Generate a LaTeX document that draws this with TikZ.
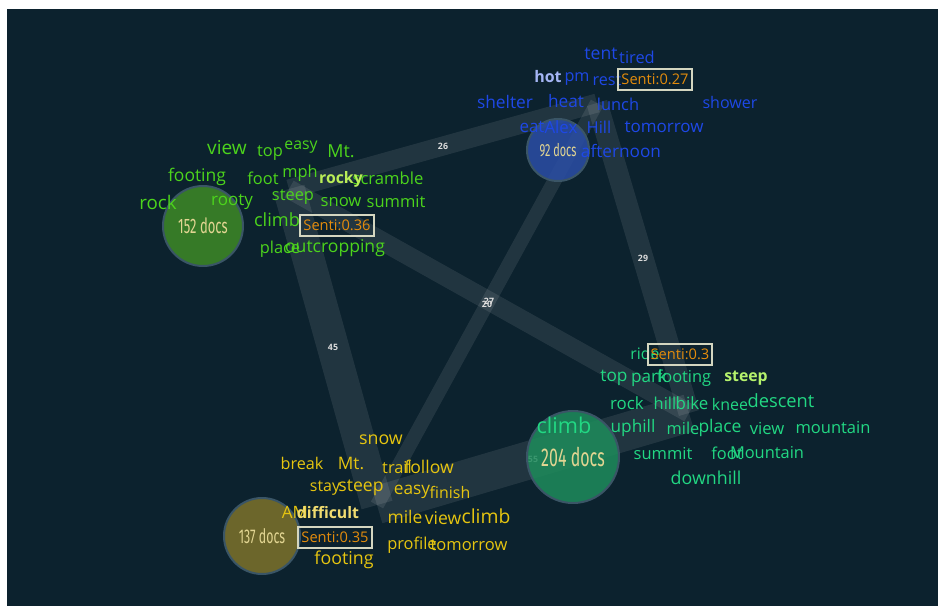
\documentclass[tikz,border=0pt]{standalone}
\usepackage{fontspec}
\setmainfont{Open Sans}
\newfontfamily\docsfont[FakeStretch=0.62]{Fira Sans}

\definecolor{bgc}{HTML}{0C222E}
\definecolor{ringc}{HTML}{3A5566}
\definecolor{labc}{HTML}{DCDCDC}
\definecolor{bluew}{HTML}{1E48E6}
\definecolor{greenw}{HTML}{4CD41C}
\definecolor{tealw}{HTML}{22D883}
\definecolor{olivew}{HTML}{E6C510}
\definecolor{bluen}{HTML}{2B4EA6}
\definecolor{greenn}{HTML}{3E8A26}
\definecolor{tealn}{HTML}{1E8C5C}
\definecolor{oliven}{HTML}{7D722B}
\definecolor{docsc}{HTML}{E2D592}
\definecolor{sentic}{HTML}{E48C0C}
\definecolor{sentib}{HTML}{D4D6C0}

\newlength{\pxu}
\setlength{\pxu}{0.03cm}
\newcommand{\wsz}[1]{\fontsize{#1}{#1}\selectfont}

\tikzset{
  band/.style={draw=white, draw opacity=0.09},
  elab/.style={text=labc, font=\bfseries\wsz{7.5}, inner sep=0pt},
  cluster/.style={circle, inner sep=0pt, draw=ringc, line width=2\pxu, fill opacity=0.85, text opacity=1},
  docs/.style={text=docsc, font=\docsfont\wsz{#1}},
  senti/.style={draw=sentib, line width=2\pxu, text=sentic, font=\wsz{12.5},
    inner xsep=3\pxu, inner ysep=0pt, minimum height=21\pxu},
  word/.style={inner sep=0pt, font=\wsz{#1}},
  word/.default=14,
  bw/.style={word=#1, text=bluew}, bw/.default=14,
  gw/.style={word=#1, text=greenw}, gw/.default=14,
  tw/.style={word=#1, text=tealw}, tw/.default=14,
  ow/.style={word=#1, text=olivew}, ow/.default=14,
  hl/.style={inner sep=0pt, font=\bfseries\wsz{#1}}, hl/.default=13.5
}

\begin{document}
\begin{tikzpicture}[x=0.03cm, y=-0.03cm]

  % White margin and dark canvas.
  \fill[white] (0,0) rectangle (938,606);
  \fill[bgc] (7,9) rectangle (938,606);

  % Centres of the word clouds, where the bands meet.
  \coordinate (cg) at (289,189);
  \coordinate (cb) at (597,103);
  \coordinate (ct) at (689,413);
  \coordinate (co) at (377,505);

  % Bands between clusters, as wide as their weight.
  \draw[band, line width=19\pxu] (cg) -- (cb) node[elab, midway] (l-gb) {26};
  \draw[band, line width=21\pxu] (cb) -- (ct) node[elab, midway] (l-bt) {29};
  \draw[band, line width=32\pxu] (cg) -- (co) node[elab, midway] (l-go) {45};
  \draw[band, line width=19\pxu] (cg) -- (ct) node[elab, midway] (l-gt) {27};
  \draw[band, line width=14\pxu] (cb) -- (co) node[elab, midway] (l-bo) {20};
  \draw[band, line width=38\pxu] (co) -- (ct) node[elab, midway] (l-ot) {55};

  % Cluster circles.
  \node[cluster, fill=bluen, minimum size=62\pxu, docs=15] (nb) at (558,150) {92 docs};
  \node[cluster, fill=greenn, minimum size=80\pxu, docs=17.9] (ng) at (203,226) {152 docs};
  \node[cluster, fill=tealn, minimum size=92\pxu, docs=22] (nt) at (573,457) {204 docs};
  \node[cluster, fill=oliven, minimum size=76\pxu, docs=17] (no) at (262,536) {137 docs};

  % Blue cloud.
  \node[bw=15] (b-tent) at (601,54) {tent};
  \node[bw=14] (b-tired) at (637,57) {tired};
  \node[hl=13.6, text=bluew!40!white] (b-hot) at (548,77) {hot};
  \node[bw=13.8] (b-pm) at (577,79) {pm};
  \node[bw=13.8] (b-rest) at (607,80) {rest};
  \node[bw=14.8] (b-shelter) at (505,102) {shelter};
  \node[bw=14.7] (b-heat) at (566,101) {heat};
  \node[bw=14] (b-lunch) at (618,104) {lunch};
  \node[bw=13.7] (b-shower) at (730,102) {shower};
  \node[bw=14.5] (b-eat) at (532,127) {eat};
  \node[bw=14.4] (b-alex) at (561,127) {Alex};
  \node[bw=14] (b-hill) at (599,127) {Hill};
  \node[bw=14.5] (b-tomorrow) at (664,127) {tomorrow};
  \node[bw=14.7] (b-afternoon) at (621,151) {afternoon};
  \node[senti] (b-senti) at (655,79) {Senti:0.27};

  % Green cloud.
  \node[gw=16.3] (g-view) at (227,148) {view};
  \node[gw=14] (g-top) at (270,153) {top};
  \node[gw=13.5] (g-easy) at (301,147) {easy};
  \node[gw=15.3] (g-mt) at (341,151) {Mt.};
  \node[gw=14.9] (g-footing) at (197,177) {footing};
  \node[gw=14] (g-foot) at (263,178) {foot};
  \node[gw=14] (g-mph) at (300,173) {mph};
  \node[gw=14.2] (g-scramble) at (388,178) {scramble};
  \node[hl=13.5, text=greenw!55!yellow!70!white] (g-rocky) at (341,179) {rocky};
  \node[gw=16] (g-rock) at (158,202) {rock};
  \node[gw=14.5] (g-rooty) at (232,202) {rooty};
  \node[gw=14] (g-steep) at (293,197) {steep};
  \node[gw=14.2] (g-snow) at (341,202) {snow};
  \node[gw=14.1] (g-summit) at (396,202) {summit};
  \node[gw=15.5] (g-climb) at (277,220) {climb};
  \node[gw=14] (g-place) at (280,249) {place};
  \node[gw=15] (g-outcropping) at (335,248) {outcropping};
  \node[senti] (g-senti) at (337,225) {Senti:0.36};

  % Teal cloud.
  \node[tw=13.5] (t-ride) at (645,354) {ride};
  \node[tw=14.7] (t-top) at (614,378) {top};
  \node[tw=14.6] (t-park) at (649,378) {park};
  \node[tw=14] (t-footing) at (684,378) {footing};
  \node[hl=13.5, text=tealw!45!yellow!75!white] (t-steep) at (746,378) {steep};
  \node[tw=14.4] (t-rock) at (627,403) {rock};
  \node[tw=14] (t-hill) at (665,403) {hill};
  \node[tw=14.4] (t-bike) at (692,403) {bike};
  \node[tw=13.6] (t-knee) at (730,405) {knee};
  \node[tw=15.6] (t-descent) at (781,401) {descent};
  \node[tw=18.5] (t-climb) at (564,425) {climb};
  \node[tw=14.7] (t-uphill) at (633,428) {uphill};
  \node[tw=14] (t-mile) at (683,428) {mile};
  \node[tw=14.9] (t-place) at (720,428) {place};
  \node[tw=14.2] (t-view) at (767,428) {view};
  \node[tw=14.1] (t-mountain) at (833,428) {mountain};
  \node[tw=14.1] (t-summit) at (663,454) {summit};
  \node[tw=14] (t-foot) at (727,453) {foot};
  \node[tw=14] (t-mountainb) at (767,453) {Mountain};
  \node[tw=15.2] (t-downhill) at (706,478) {downhill};
  \node[senti] (t-senti) at (680,354) {Senti:0.3};

  % Olive cloud.
  \node[ow=15.2] (o-snow) at (381,440) {snow};
  \node[ow=13.8] (o-break) at (302,463) {break};
  \node[ow=14.7] (o-mt) at (351,463) {Mt.};
  \node[ow=14] (o-trail) at (397,467) {trail};
  \node[ow=15] (o-follow) at (429,467) {follow};
  \node[ow=13.6] (o-stay) at (325,488) {stay};
  \node[ow=15] (o-steep) at (361,488) {steep};
  \node[ow=14.7] (o-easy) at (412,492) {easy};
  \node[ow=13.6] (o-finish) at (450,492) {finish};
  \node[ow=14.5] (o-am) at (295,512) {AM};
  \node[hl=13.5, text=olivew!60!white] (o-difficult) at (328,513) {difficult};
  \node[ow=14.9] (o-mile) at (405,517) {mile};
  \node[ow=15] (o-view) at (443,518) {view};
  \node[ow=16.5] (o-climb) at (486,516) {climb};
  \node[ow=14] (o-profile) at (412,545) {profile};
  \node[ow=14.1] (o-tomorrow) at (469,545) {tomorrow};
  \node[ow=15.2] (o-footing) at (344,560) {footing};
  \node[senti] (o-senti) at (335,537) {Senti:0.35};

\end{tikzpicture}
\end{document}
